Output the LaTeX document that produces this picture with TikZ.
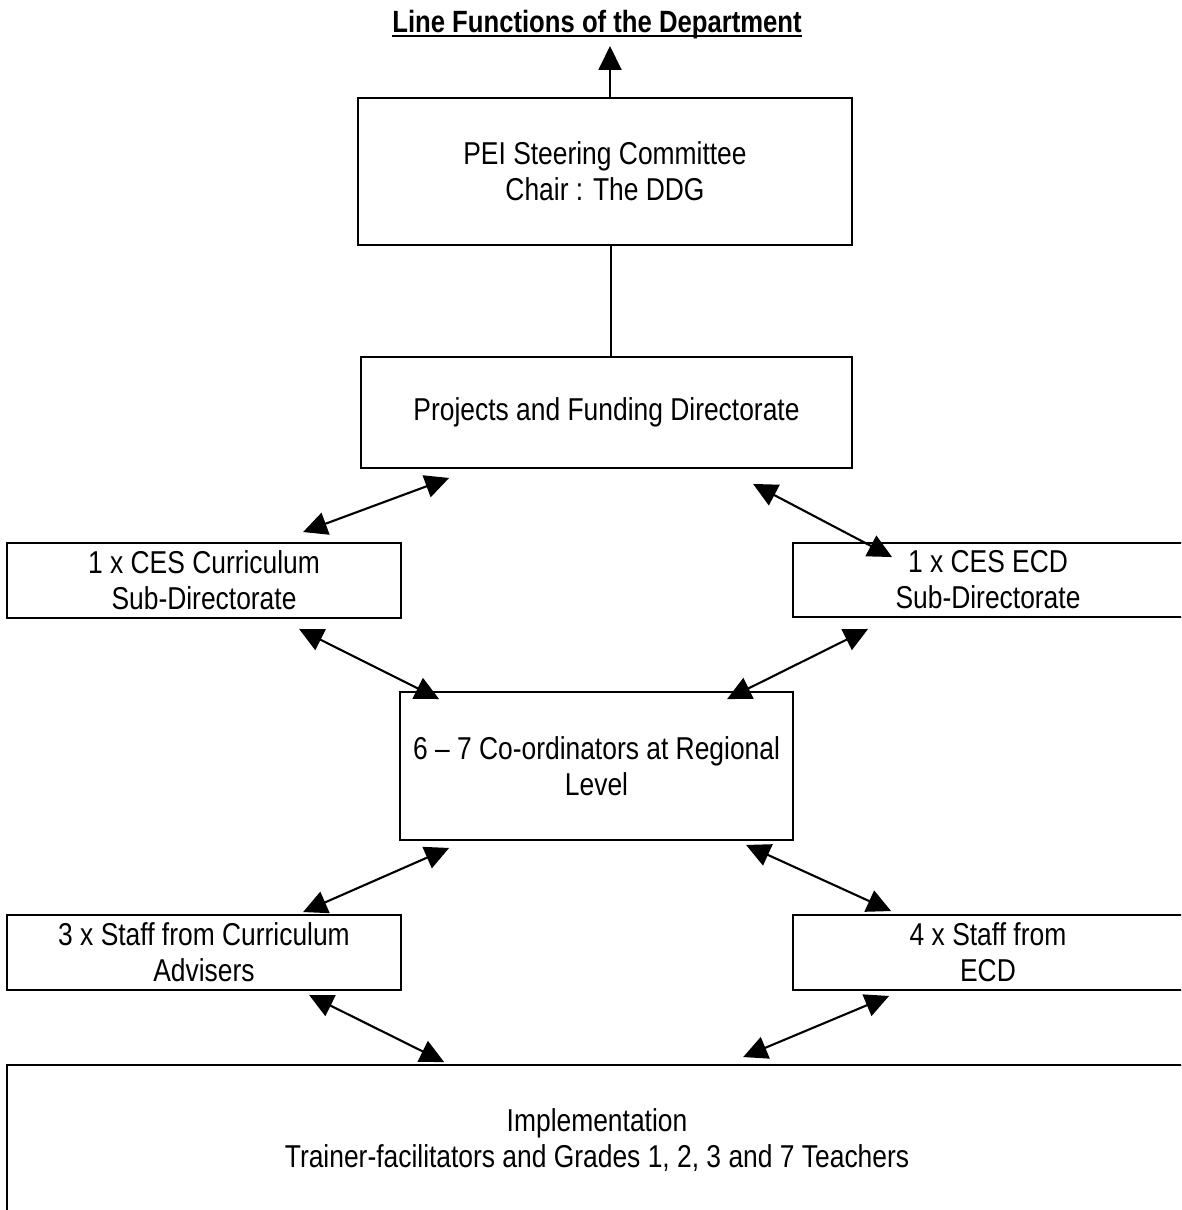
\documentclass[tikz,border=0pt]{standalone}
\usepackage{fontspec}
\setmainfont{Liberation Sans}[FakeStretch=0.835]
\usetikzlibrary{arrows.meta}
\begin{document}
\begin{tikzpicture}[x=0.02cm,y=-0.02cm,
  box/.style={draw,line width=1.1pt,inner sep=0pt,align=center,
    font=\fontsize{18}{20.5}\selectfont},
  link/.style={line width=1.2pt,{Triangle[length=0.48cm,width=0.46cm]}-{Triangle[length=0.48cm,width=0.46cm]}},
  plain/.style={line width=1.1pt}]
\useasboundingbox (0,0) rectangle (1181,1210);
\clip (0,0) rectangle (1181,1210);
\node[inner sep=0pt,font=\bfseries\fontsize{17.5}{20.5}\selectfont] (title) at (597,25) {Line Functions of the Department};
\draw[plain] ([yshift=-0.07cm]title.base west) -- ([yshift=-0.07cm]title.base east);
\node[box,minimum width=9.88cm,minimum height=2.94cm] (pei) at (605,171.5) {PEI Steering Committee\\Chair : The DDG};
\node[box,minimum width=9.82cm,minimum height=2.22cm] (proj) at (606.5,412.5) {Projects and Funding Directorate};
\node[box,minimum width=7.88cm,minimum height=1.5cm] (cesc) at (204,580.5) {1 x CES Curriculum\\Sub-Directorate};
\node[box,minimum width=7.8cm,minimum height=1.48cm] (cese) at (988,580) {1 x CES ECD\\Sub-Directorate};
\node[box,minimum width=7.86cm,minimum height=2.96cm] (coord) at (596.5,766) {6 – 7 Co-ordinators at Regional\\Level};
\node[box,minimum width=7.88cm,minimum height=1.5cm] (stc) at (204,952.5) {3 x Staff from Curriculum\\Advisers};
\node[box,minimum width=7.8cm,minimum height=1.5cm] (ste) at (988,952.5) {4 x Staff from\\ECD};
\node[box,minimum width=23.6cm,minimum height=3.0cm] (impl) at (597,1140) {Implementation\\Trainer-facilitators and Grades 1, 2, 3 and 7 Teachers};
\coordinate (up) at (610,46);
\draw[plain,-{Triangle[length=0.48cm,width=0.46cm]}] ([shift={(5,0)}]pei.north) -- (up);
\draw[plain] ([shift={(6,0)}]pei.south) -- ([shift={(4.5,0)}]proj.north);
\draw[link] ([shift={(89,9)}]proj.south west) -- ([shift={(297,-10)}]cesc.north west);
\draw[link] ([shift={(393,15)}]proj.south west) -- ([shift={(100,15)}]cese.north west);
\draw[link] ([shift={(293,10)}]cesc.south west) -- ([shift={(40,8)}]coord.north west);
\draw[link] ([shift={(76,11)}]cese.south west) -- ([shift={(328,8)}]coord.north west);
\draw[link] ([shift={(50,7)}]coord.south west) -- ([shift={(297,-2)}]stc.north west);
\draw[link] ([shift={(347,4)}]coord.south west) -- ([shift={(99,-3)}]ste.north west);
\draw[link] ([shift={(303,4)}]stc.south west) -- ([shift={(438,-2)}]impl.north west);
\draw[link] ([shift={(97,5)}]ste.south west) -- ([shift={(737,-7)}]impl.north west);
\end{tikzpicture}
\end{document}
